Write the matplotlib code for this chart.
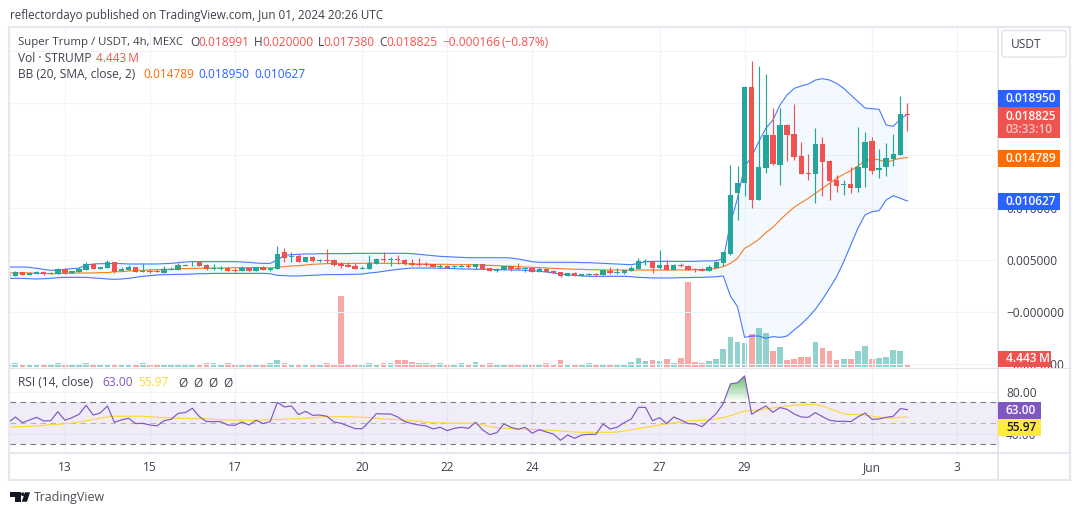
import numpy as np
import pandas as pd
import matplotlib
matplotlib.use("Agg")
import matplotlib.pyplot as plt
import matplotlib.dates as mdates
from matplotlib.patches import Rectangle, FancyBboxPatch, Polygon, Ellipse
from matplotlib.lines import Line2D

plt.rcParams["font.family"] = ["Open Sans", "DejaVu Sans"]

W, H = 1080, 515
MILLI = 1e-3

# 4h candles on Super Trump / USDT, prices in thousandths of a USDT
opens = [3.45,
 3.45,3.83,3.58,3.64,3.80,3.67,3.67,4.09,3.70,3.83,
 4.02,4.60,4.15,4.25,4.79,3.93,4.02,4.31,3.86,3.93,
 3.93,3.77,4.02,4.02,4.44,4.76,4.82,4.50,4.12,4.15,
 4.25,4.02,3.96,4.21,3.96,4.31,4.02,4.12,5.75,5.30,
 5.36,4.82,5.27,4.89,4.98,4.98,4.63,4.53,4.41,4.12,
 4.12,4.60,5.04,4.98,5.04,4.98,4.69,4.60,4.60,4.60,
 4.34,4.41,4.34,4.34,4.41,4.31,4.60,4.21,3.96,3.99,
 4.41,4.21,4.15,4.21,3.86,4.12,3.93,3.83,3.48,3.74,
 3.48,3.54,3.64,3.54,3.96,3.77,3.70,3.96,4.12,4.82,
 4.89,4.21,4.50,4.02,4.50,4.41,4.12,4.12,3.93,4.21,
 4.69,5.56,11.43,12.39,21.55,10.76,13.82,16.95,14.08,17.91,
 17.05,14.94,13.31,13.22,16.09,14.46,12.64,12.16,12.26,11.88,
 13.79,16.38,13.60,13.89,14.66,15.04,18.991]
highs = [3.58,
 3.96,3.83,3.83,3.90,3.90,3.83,4.21,4.18,3.93,4.28,
 4.79,4.60,4.31,4.98,4.79,4.31,4.50,4.31,4.69,4.12,
 4.12,4.41,4.28,4.66,4.57,4.92,4.82,4.60,4.60,4.37,
 4.34,4.18,4.41,4.28,4.31,4.41,4.34,6.32,6.13,5.75,
 5.52,5.27,5.36,5.11,6.03,5.08,4.79,4.76,4.66,4.41,
 5.46,5.17,5.75,5.27,5.46,5.04,5.08,5.17,4.79,4.60,
 4.60,4.50,4.53,4.60,4.60,4.60,4.60,4.21,4.21,4.41,
 4.41,4.69,4.31,4.31,4.31,4.21,4.02,3.83,3.74,3.83,
 3.64,3.74,3.77,4.12,4.28,4.21,4.02,4.41,5.17,5.08,
 4.89,5.94,4.98,4.60,4.69,4.50,4.21,4.21,4.50,4.89,
 5.75,14.08,13.98,21.68,24.04,23.56,22.80,19.54,19.54,18.01,
 19.92,16.28,15.13,17.62,16.76,14.56,13.12,12.64,13.89,17.72,
 17.24,16.76,15.61,16.19,17.05,20.69,20.0]
lows = [3.42,
 3.45,3.58,3.58,3.64,3.58,3.61,3.67,3.67,3.70,3.83,
 4.02,4.15,4.15,4.25,3.74,3.93,4.02,3.83,3.86,3.74,
 3.86,3.74,4.02,4.02,4.44,4.44,4.41,4.02,4.02,4.02,
 3.96,3.86,3.96,3.96,3.96,4.02,3.96,4.12,4.82,4.79,
 4.82,4.82,4.82,4.82,4.66,4.44,4.21,4.34,4.12,4.12,
 4.12,4.60,4.79,4.41,4.60,4.50,4.41,4.41,4.41,4.31,
 4.21,4.18,4.21,4.34,4.25,4.12,4.12,3.90,3.86,3.99,
 3.93,4.02,3.86,3.86,3.86,3.86,3.77,3.38,3.48,3.48,
 3.48,3.48,3.48,3.54,3.64,3.64,3.64,3.96,4.12,4.50,
 3.74,4.12,4.02,4.02,4.31,4.02,3.86,3.96,3.93,4.21,
 4.41,5.46,8.81,11.11,9.99,10.76,13.34,14.08,12.16,14.46,
 14.56,13.22,12.64,10.44,11.11,10.73,11.49,11.21,11.40,11.49,
 11.97,13.22,12.84,13.03,13.98,15.04,17.38]
closes = [3.58,
 3.83,3.58,3.70,3.80,3.64,3.74,4.09,3.70,3.90,4.15,
 4.60,4.15,4.31,4.79,3.86,4.12,4.31,3.86,3.93,3.86,
 3.86,4.12,4.09,4.50,4.50,4.82,4.41,4.12,4.21,4.21,
 3.96,3.96,4.25,3.96,4.31,4.02,4.21,5.56,5.20,5.36,
 4.82,5.27,4.89,4.98,4.89,4.50,4.44,4.34,4.12,4.18,
 4.66,5.08,4.95,5.08,4.95,4.60,4.50,4.50,4.53,4.31,
 4.41,4.21,4.41,4.41,4.34,4.60,4.12,3.93,4.12,4.41,
 4.09,4.15,4.21,3.86,4.12,3.86,3.77,3.48,3.74,3.48,
 3.61,3.64,3.58,4.02,3.70,3.83,3.99,4.21,4.85,4.89,
 4.21,4.50,4.02,4.50,4.41,4.02,4.05,3.96,4.31,4.79,
 5.75,11.21,12.33,21.58,10.76,13.89,16.95,14.15,17.91,16.95,
 14.88,13.22,13.22,16.09,14.37,12.55,12.07,12.26,11.88,13.89,
 16.28,13.51,13.79,14.75,15.13,18.97,18.825]

# Volume in millions of STRUMP
volumes = [4.4,
 5.4,2.5,4.4,4.4,4.4,3.0,5.4,4.4,3.0,4.4,
 5.4,4.4,4.4,4.4,4.4,3.0,4.4,3.0,5.4,3.0,
 3.0,4.4,4.4,3.0,4.4,3.0,4.4,5.9,5.9,3.0,
 5.9,3.0,3.0,3.0,4.4,3.0,5.9,10.4,5.9,4.4,
 3.0,4.4,3.0,4.4,5.9,4.4,105.2,3.0,
 3.0,4.4,5.9,3.0,5.9,5.9,10.4,10.4,7.4,5.9,
 5.9,4.4,5.9,4.4,4.4,5.9,4.4,7.4,4.4,5.9,
 4.4,3.0,4.4,4.4,3.0,3.0,4.4,5.9,3.0,10.4,
 4.4,4.4,3.0,5.9,4.4,3.0,4.4,4.4,4.4,7.4,
 13.3,8.9,10.4,8.9,11.8,5.9,13.3,125.9,7.4,5.9,
 8.9,11.8,26.7,44.4,37.0,35.5,48.9,57.8,50.4,23.7,
 29.6,10.4,11.8,14.8,14.8,37.0,28.1,23.7,10.4,11.8,
 11.8,23.7,31.1,11.8,13.3,14.8,25.2,23.7,4.443]

# Bollinger bands (20, SMA, close, 2), thousandths of a USDT
bb_upper = [4.31,
 4.31,4.31,4.28,4.18,4.09,3.99,4.02,4.09,4.15,4.21,
 4.50,4.60,4.63,4.63,4.66,4.63,4.60,4.60,4.60,4.60,
 4.60,4.63,4.66,4.73,4.79,4.82,4.82,4.82,4.82,4.82,
 4.82,4.82,4.79,4.76,4.69,4.66,4.66,4.98,5.43,5.49,
 5.52,5.56,5.56,5.59,5.59,5.59,5.59,5.59,5.62,5.62,
 5.62,5.62,5.62,5.62,5.62,5.62,5.59,5.52,5.46,5.40,
 5.33,5.30,5.27,5.24,5.20,5.20,5.20,5.20,5.20,5.20,
 5.17,5.08,4.95,4.82,4.76,4.76,4.76,4.76,4.76,4.76,
 4.73,4.73,4.69,4.66,4.63,4.60,4.57,4.53,4.66,4.82,
 4.85,4.85,4.85,4.85,4.85,4.85,4.85,4.89,4.89,4.92,
 5.11,8.50,10.89,13.92,14.88,16.32,17.59,18.39,19.83,20.79,
 21.42,21.65,21.84,22.22,22.35,22.22,21.90,21.42,20.79,20.15,
 19.54,19.48,19.41,17.91,17.78,18.49,18.950]
bb_basis = [3.74,
 3.74,3.74,3.74,3.70,3.70,3.67,3.67,3.70,3.70,3.74,
 3.74,3.74,3.77,3.77,3.86,3.86,3.93,3.96,3.99,4.02,
 4.05,4.09,4.09,4.15,4.15,4.18,4.18,4.21,4.21,4.21,
 4.21,4.25,4.25,4.25,4.25,4.25,4.21,4.28,4.34,4.41,
 4.44,4.50,4.57,4.60,4.63,4.66,4.66,4.63,4.66,4.66,
 4.69,4.69,4.66,4.66,4.66,4.63,4.60,4.60,4.60,4.57,
 4.57,4.57,4.53,4.53,4.53,4.53,4.50,4.47,4.44,4.41,
 4.37,4.34,4.31,4.28,4.25,4.21,4.18,4.15,4.12,4.09,
 4.09,4.05,4.05,4.02,4.02,4.02,4.02,4.02,4.02,4.02,
 4.02,4.02,4.02,4.02,4.02,4.02,4.05,4.05,4.09,4.18,
 4.34,4.66,5.14,6.10,6.48,6.96,7.60,8.11,8.81,9.45,
 10.03,10.47,10.89,11.37,11.85,12.32,12.80,13.19,13.54,13.98,
 14.50,14.62,14.59,14.30,14.56,14.72,14.789]
bb_lower = [3.22,
 3.22,3.22,3.19,3.16,3.19,3.22,3.29,3.32,3.32,3.32,
 3.32,3.26,3.22,3.16,3.13,3.16,3.22,3.32,3.42,3.48,
 3.54,3.58,3.58,3.61,3.61,3.64,3.67,3.67,3.70,3.70,
 3.70,3.70,3.70,3.70,3.70,3.70,3.67,3.51,3.48,3.45,
 3.45,3.48,3.51,3.54,3.58,3.58,3.58,3.61,3.61,3.64,
 3.74,3.80,3.90,3.99,4.09,4.15,4.21,4.21,4.21,4.21,
 4.18,4.18,4.15,4.12,4.12,4.09,4.09,4.09,4.05,4.05,
 4.02,4.02,3.99,3.96,3.90,3.83,3.74,3.64,3.58,3.51,
 3.45,3.42,3.42,3.42,3.42,3.42,3.42,3.38,3.32,3.29,
 3.26,3.26,3.26,3.26,3.29,3.29,3.32,3.32,3.35,3.38,
 3.45,1.53,0.51,-2.43,-2.30,-2.30,-2.52,-2.36,-2.43,-2.30,
 -1.72,-1.18,-0.51,0.26,1.21,2.27,3.38,4.82,6.42,8.01,
 9.29,9.61,9.71,10.73,11.14,10.89,10.627]

# RSI (14, close) and its moving average
rsi = [50.6,
 56.0,50.6,53.2,55.7,52.2,52.5,61.1,52.9,55.4,58.6,
 67.1,57.9,59.8,66.5,51.0,53.2,54.8,49.7,50.0,48.4,
 47.5,52.5,53.8,59.5,60.2,64.3,56.3,51.6,51.6,51.6,
 48.4,48.1,51.3,48.4,52.9,49.7,51.6,70.0,65.6,66.5,
 58.3,61.4,57.6,57.9,56.7,51.3,50.0,47.5,44.9,44.9,
 51.6,59.2,58.9,58.9,56.0,51.6,49.7,48.4,47.5,44.6,
 46.2,43.0,45.2,46.2,45.2,51.0,43.7,39.2,41.1,49.4,
 46.2,44.3,46.2,40.5,44.0,41.7,39.8,33.8,38.9,35.7,
 38.9,39.5,39.5,49.4,44.6,46.2,50.6,54.1,65.2,65.2,
 52.5,55.4,49.7,56.0,53.2,49.7,49.4,46.8,53.2,59.2,
 69.0,87.5,88.7,95.1,58.6,62.7,66.5,60.5,64.9,63.3,
 58.9,56.0,55.7,60.2,56.3,52.9,51.9,51.9,51.6,56.0,
 59.8,53.8,54.1,55.7,56.7,64.0,63.0]
rsi_ma = [46.5,
 46.5,46.8,47.1,47.5,48.1,48.7,49.0,49.7,50.3,51.3,
 52.5,53.8,54.8,56.0,56.7,56.7,56.7,56.7,56.7,56.3,
 55.7,55.4,55.1,54.8,54.8,54.4,54.4,54.1,53.8,53.5,
 53.2,52.9,52.9,52.9,52.9,53.2,53.5,53.5,53.8,54.1,
 54.4,54.8,55.1,56.0,56.3,56.3,56.3,56.3,56.0,55.7,
 55.4,54.8,54.1,53.8,53.5,52.9,52.2,51.6,51.0,50.6,
 50.3,50.3,50.0,50.0,50.0,49.7,48.4,46.8,45.9,45.2,
 44.9,44.6,44.6,44.3,44.0,43.7,43.3,42.7,42.1,41.7,
 41.4,41.4,41.4,41.4,41.4,41.7,42.7,43.7,44.9,46.2,
 47.1,48.4,49.4,50.3,51.3,52.2,52.5,52.9,53.2,54.1,
 55.4,57.3,59.5,61.7,62.1,62.7,63.7,64.6,65.2,66.5,
 67.1,67.5,67.8,67.8,66.5,64.0,61.4,58.9,58.6,58.3,
 57.6,57.0,55.7,55.1,55.1,55.7,55.97]

date_ticks = ["2024-05-13", "2024-05-15", "2024-05-17", "2024-05-20", "2024-05-22",
              "2024-05-24", "2024-05-27", "2024-05-29", "2024-06-01", "2024-06-03"]
date_labels = ["13", "15", "17", "20", "22", "24", "27", "29", "Jun", "3"]
price_ticks = [-0.005, 0.0, 0.005, 0.010, 0.015, 0.020, 0.025]
price_labels = ["\u22120.005000", "\u22120.000000", "0.005000", "0.010000",
                "0.015000", "0.020000", "0.025000"]

GREEN, RED = "#26a69a", "#ef5350"
BLUE, ORANGE = "#2962ff", "#ff6d00"
PURPLE, YELLOW = "#7e57c2", "#fdd835"
GRID, EDGE = "#f0f3fa", "#e0e3eb"
INK = "#3d414c"

to_price = lambda seq: np.asarray(seq) * MILLI
o, h, l, c = map(to_price, (opens, highs, lows, closes))
times = mdates.date2num(pd.date_range("2024-05-11 16:00", periods=len(o), freq="4h"))
PX_PER_DAY = 42.48
rising = c >= o
colors = np.where(rising, GREEN, RED)


def fx(x):
    return x / W


def fy(y):
    return 1 - y / H


def pane(left, top, right, bottom):
    return [fx(left), fy(bottom), (right - left) / W, (bottom - top) / H]


fig = plt.figure(figsize=(W / 100, H / 100), dpi=100, facecolor="white")

rect_main = pane(10, 28, 998, 367)
PX_PER_MILLI = 10.44
y_low = -55 / PX_PER_MILLI * MILLI
y_high = 284 / PX_PER_MILLI * MILLI
VOL_PER_PX = 4.443 / 3

ax_vol = fig.add_axes(rect_main, zorder=1)
ax = fig.add_axes(rect_main, zorder=2)
ax.patch.set_visible(False)
ax_rsi = fig.add_axes(pane(10, 368, 998, 452.3), zorder=2)

anchor = mdates.date2num(pd.Timestamp("2024-05-13"))
xlim = (anchor - 54.9 / PX_PER_DAY, anchor + 933.1 / PX_PER_DAY)
tick_pos = mdates.date2num(pd.to_datetime(date_ticks))

# Volume sits behind the candles on its own scale
ax_vol.bar(times, volumes, width=5.7 / PX_PER_DAY, color=colors, alpha=0.5, linewidth=0)
ax_vol.set_xlim(xlim)
ax_vol.set_ylim(0, 339 * VOL_PER_PX)
ax_vol.axis("off")

# Bollinger bands
ax.fill_between(times, to_price(bb_lower), to_price(bb_upper), color="#2196f3", alpha=0.05, linewidth=0)
ax.plot(times, to_price(bb_upper), color=BLUE, lw=0.8, alpha=0.85, zorder=3)
ax.plot(times, to_price(bb_lower), color=BLUE, lw=0.8, alpha=0.85, zorder=3)
ax.plot(times, to_price(bb_basis), color=ORANGE, lw=0.8, alpha=0.9, zorder=3)

# Candles
ax.vlines(times, l, h, colors=colors, lw=0.85, zorder=4)
ax.bar(times, np.abs(c - o), bottom=np.minimum(o, c), width=5.4 / PX_PER_DAY,
       color=colors, linewidth=0, zorder=5)

ax.set_xlim(xlim)
ax.set_ylim(y_low, y_high)
ax.set_xticks(tick_pos)
ax.set_xticklabels([])
ax.set_yticks(price_ticks)
ax.set_yticklabels(price_labels)
ax.yaxis.tick_right()
ax.tick_params(axis="y", length=0, pad=5.8, labelsize=8.6, labelcolor=INK)
ax.tick_params(axis="x", length=0)
ax.grid(True, color=GRID, lw=0.8)
ax.set_axisbelow(True)
for s in ax.spines.values():
    s.set_visible(False)

# RSI pane
ax_rsi.axhspan(30, 70, color=PURPLE, alpha=0.1, linewidth=0, zorder=1)
for level, col, alpha in ((70, "#787b86", 1), (30, "#787b86", 1), (50, "#787b86", 0.5)):
    ax_rsi.axhline(level, color=col, alpha=alpha, lw=0.8, dashes=(5, 4), zorder=2)
rsi_arr = np.asarray(rsi)
over = ax_rsi.fill_between(times, 70, rsi_arr, where=rsi_arr > 70, interpolate=True,
                           color="none", linewidth=0)
ramp = np.zeros((64, 2, 4))
ramp[..., :3] = matplotlib.colors.to_rgb("#4caf50")
ramp[..., 3] = np.linspace(0.85, 0.0, 64)[:, None]
glow = ax_rsi.imshow(ramp, extent=(times[0], times[-1], 70, 95.1), aspect="auto",
                     origin="upper", zorder=3, interpolation="bilinear")
glow.set_clip_path(over.get_paths()[0], ax_rsi.transData)
ax_rsi.plot(times, rsi_ma, color=YELLOW, lw=0.85, zorder=4)
ax_rsi.plot(times, rsi, color=PURPLE, lw=0.85, zorder=5)
ax_rsi.set_xlim(xlim)
ax_rsi.set_ylim(70 - (452.3 - 402.3) / 1.05, 70 + (402.3 - 368) / 1.05)
ax_rsi.set_xticks(tick_pos)
ax_rsi.set_xticklabels(date_labels)
ax_rsi.set_yticks([40, 80])
ax_rsi.set_yticklabels(["40.00", "80.00"])
ax_rsi.yaxis.tick_right()
ax_rsi.tick_params(axis="y", length=0, pad=5.8, labelsize=8.6, labelcolor=INK)
ax_rsi.tick_params(axis="x", length=0, pad=6.5, labelsize=8.6, labelcolor=INK)
ax_rsi.grid(True, color=GRID, lw=0.8)
ax_rsi.set_axisbelow(True)
for s in ax_rsi.spines.values():
    s.set_visible(False)


def line(x0, y0, x1, y1, color=EDGE, lw=1.0, z=4):
    fig.add_artist(Line2D([fx(x0), fx(x1)], [fy(y0), fy(y1)], color=color, lw=lw, zorder=z))


def label(x, y, s, color=INK, size=8.6, z=7, **kw):
    kw.setdefault("va", "center")
    return fig.text(fx(x), fy(y), s, color=color, fontsize=size, zorder=z, **kw)


def tag(x0, y0, x1, y1, color, s, text_color="white", second=None):
    fig.add_artist(Rectangle((fx(x0), fy(y1)), (x1 - x0) / W, (y1 - y0) / H,
                             transform=fig.transFigure, facecolor=color, edgecolor="none", zorder=5))
    if second is None:
        label(x0 + 8, (y0 + y1) / 2, s, color=text_color, weight="semibold")
    else:
        label(x0 + 8, y0 + 9, s, color=text_color, weight="semibold")
        label(x0 + 8, y0 + 22.5, second, color="#ffc4c2", weight="semibold")


# Frame, pane separators and price-scale border
fig.add_artist(Rectangle((fx(9), fy(479.5)), 1061 / W, 452.5 / H, transform=fig.transFigure,
                         facecolor="none", edgecolor="#e6e8ef", lw=1.6, zorder=4))
line(998, 27, 998, 480, lw=1.2)
line(10, 367.5, 1070, 367.5, lw=0.8)
line(10, 452.6, 1070, 452.6, lw=1.2)

# Price-scale value tags
tag(998, 90, 1060, 107, BLUE, "0.018950")
tag(998, 107, 1060, 137.7, RED, "0.018825", second="03:33:10")
tag(998, 150, 1060, 166.7, ORANGE, "0.014789")
tag(998, 193, 1060, 210, BLUE, "0.010627")
tag(998, 351, 1050.7, 366.7, RED, "4.443\u2009M")
tag(998, 402, 1040.7, 419.3, PURPLE, "63.00")
tag(998, 419.3, 1040.7, 435.8, "#ffeb3b", "55.97", text_color="#131722")

# Currency button on the price scale
fig.add_artist(FancyBboxPatch((fx(1002), fy(57)), 64 / W, 26.5 / H,
                              boxstyle="round,pad=0,rounding_size=0.003",
                              transform=fig.transFigure, facecolor="white",
                              edgecolor=EDGE, lw=1.0, zorder=5, mutation_aspect=H / W * 1.9))
label(1011, 44.5, "USDT", color=INK)

# Header and legends
label(10, 15, "reflectordayo published on TradingView.com, Jun 01, 2024 20:26 UTC", size=8.4)
label(18, 42, "Super Trump / USDT, 4h, MEXC", size=8.2)
for x, s, col in ((190, "O", INK), (198, "0.018991", RED), (254, "H", INK), (262, "0.020000", RED),
                  (317.5, "L", INK), (323.5, "0.017380", RED), (379, "C", INK), (386, "0.018825", RED),
                  (442.5, "\u22120.000166", RED), (501, "(\u22120.87%)", RED)):
    label(x, 42, s, color=col)
label(18, 58, "Vol \u00b7 STRUMP")
label(96, 58, "4.443\u2009M", color=RED)
label(18, 75, "BB (20, SMA, close, 2)")
label(143, 75, "0.014789", color=ORANGE)
label(198, 75, "0.018950", color=BLUE)
label(254, 75, "0.010627", color=BLUE)
label(18, 383, "RSI (14, close)")
label(102, 383, "63.00", color=PURPLE)
label(138, 383, "55.97", color=YELLOW)
for x in (178.5, 193.5, 208.5, 223.5):
    label(x, 383, "\u00d8")

# Footer wordmark
logo = "#131722"
fig.add_artist(Polygon([(fx(10), fy(492.3)), (fx(20.7), fy(492.3)), (fx(20.7), fy(501.7)),
                        (fx(15), fy(501.7)), (fx(15), fy(496.5)), (fx(10), fy(496.5))],
                       closed=True, transform=fig.transFigure, facecolor=logo, zorder=5))
fig.add_artist(Ellipse((fx(22.8), fy(494.2)), 3.6 / W, 3.6 / H,
                       transform=fig.transFigure, facecolor=logo, zorder=5))
fig.add_artist(Polygon([(fx(25), fy(492.3)), (fx(30), fy(492.3)), (fx(27), fy(501.7)), (fx(21.7), fy(501.7))],
                       closed=True, transform=fig.transFigure, facecolor=logo, zorder=5))
label(34, 497, "TradingView", color="#4a4d55", size=8.9)

fig.savefig("out.png", dpi=100)
